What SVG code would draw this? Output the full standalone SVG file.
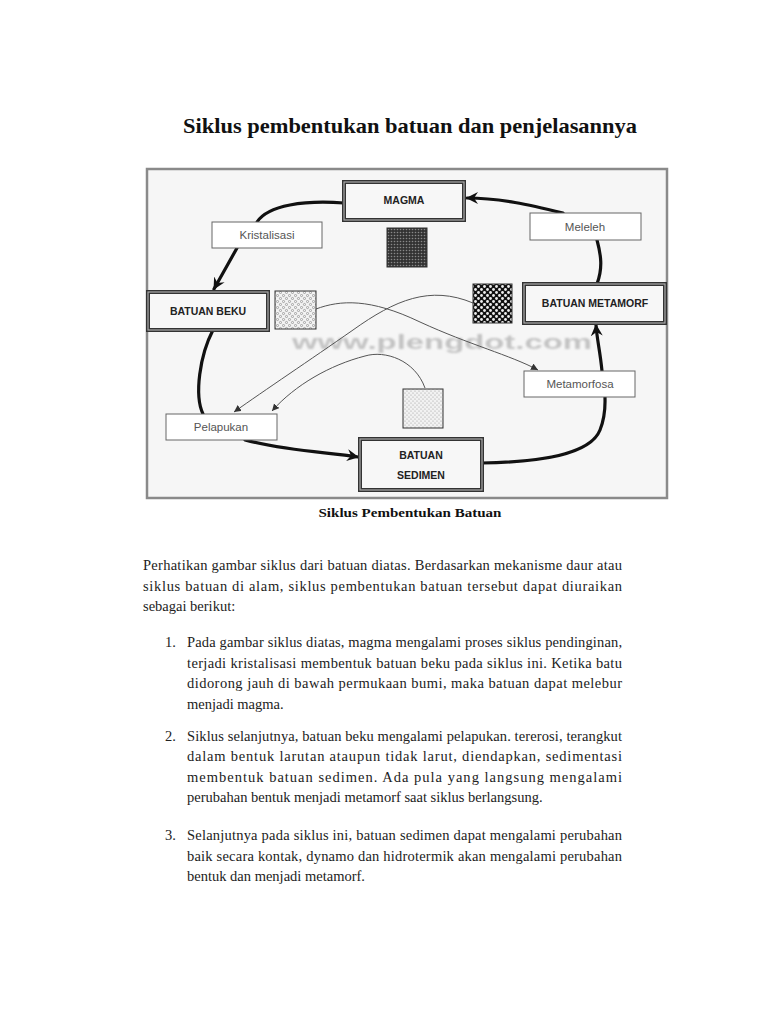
<svg xmlns="http://www.w3.org/2000/svg" width="768" height="1024" viewBox="0 0 768 1024">
<style>
.title{font-family:"Liberation Serif",serif;font-weight:bold;font-size:22px;fill:#111}
.cap{font-family:"Liberation Serif",serif;font-weight:bold;font-size:13px;fill:#111}
.body{font-family:"Liberation Serif",serif;font-size:14.5px;fill:#222}
.lbl{font-family:"Liberation Sans",sans-serif;font-size:11.5px;fill:#555;text-anchor:middle}
.blbl{font-family:"Liberation Sans",sans-serif;font-size:10.5px;font-weight:bold;fill:#222;text-anchor:middle}
.lbox{fill:#fff;stroke:#666;stroke-width:1}
.bbox{fill:#f7f7f7;stroke:#333;stroke-width:4}
.bbox2{fill:none;stroke:#aaa;stroke-width:1.2}
.thick{fill:none;stroke:#111;stroke-width:3.2;stroke-linecap:round}
.thin{fill:none;stroke:#555;stroke-width:1}
.sq{stroke:#333;stroke-width:1}
.wm{font-family:"Liberation Sans",sans-serif;font-weight:bold;font-size:20px;fill:#999;opacity:0.55}
</style>
<defs>
<marker id="ah" markerUnits="userSpaceOnUse" markerWidth="14" markerHeight="14" refX="11" refY="6" orient="auto">
<path d="M0,0 L12,6 L0,12 L4,6 Z" fill="#111"/>
</marker>
<marker id="ahs" markerUnits="userSpaceOnUse" markerWidth="8" markerHeight="8" refX="7" refY="3.5" orient="auto">
<path d="M0,0 L7,3.5 L0,7 Z" fill="#333"/>
</marker>
<pattern id="magmaPat" width="3" height="3" patternUnits="userSpaceOnUse">
<rect width="3" height="3" fill="#333"/>
<circle cx="1.5" cy="1.5" r="0.8" fill="#888"/>
</pattern>
<pattern id="bekuPat" width="6" height="6" patternUnits="userSpaceOnUse">
<rect width="6" height="6" fill="#f3f3f3"/>
<circle cx="1.5" cy="1.5" r="1.1" fill="none" stroke="#777" stroke-width="0.6"/>
<circle cx="4.5" cy="4.5" r="1.1" fill="none" stroke="#777" stroke-width="0.6"/>
</pattern>
<pattern id="metaPat" width="6" height="6" patternUnits="userSpaceOnUse">
<rect width="6" height="6" fill="#111"/>
<circle cx="1.5" cy="1.5" r="1.4" fill="#eee"/>
<circle cx="4.5" cy="4.5" r="1.4" fill="#eee"/>
</pattern>
<pattern id="sedPat" width="4" height="4" patternUnits="userSpaceOnUse">
<rect width="4" height="4" fill="#f2f2f2"/>
<circle cx="1" cy="1" r="0.6" fill="#999"/>
<circle cx="3" cy="3" r="0.6" fill="#999"/>
</pattern>
<filter id="blur" x="-5%" y="-50%" width="110%" height="200%">
<feGaussianBlur stdDeviation="1.3"/>
</filter>
</defs>
<rect width="768" height="1024" fill="#fff"/>
<text class="title" x="410" y="133" text-anchor="middle" textLength="454" lengthAdjust="spacingAndGlyphs">Siklus pembentukan batuan dan penjelasannya</text>

<g id="frame">
<rect x="147" y="169" width="520" height="329" fill="#f6f6f6" stroke="#8a8a8a" stroke-width="2.5"/>
</g>

<g id="watermark" filter="url(#blur)">
<text class="wm" x="292" y="349" textLength="300" lengthAdjust="spacingAndGlyphs">www.plengdot.com</text>
</g>

<g id="connectors">
<path class="thick" d="M344,203 C305,200 268,205 257,222"/>
<path class="thick" d="M237,248 L214,289" marker-end="url(#ah)"/>
<path class="thick" d="M213,330 C200,355 194,395 203,414"/>
<path class="thick" d="M245,440 C290,452 330,452 358,457" marker-end="url(#ah)"/>
<path class="thick" d="M482,463 C540,462 590,455 600,430 C606,415 605,405 605,397"/>
<path class="thick" d="M602,371 C600,350 597,340 596,325" marker-end="url(#ah)"/>
<path class="thick" d="M597,284 C603,268 601,255 597,240"/>
<path class="thick" d="M563,213 C530,205 500,198 467,198" marker-end="url(#ah)"/>
<path class="thin" d="M316,309 C340,300 370,298 420,322 C470,345 510,355 538,370" marker-end="url(#ahs)"/>
<path class="thin" d="M473,303 C430,285 395,300 353,330 C310,360 265,390 234,412" marker-end="url(#ahs)"/>
<path class="thin" d="M425,388 C415,360 385,350 365,356 C330,365 295,385 272,411" marker-end="url(#ahs)"/>
</g>

<g id="magma">
<rect class="bbox" x="344" y="182" width="120" height="38"/>
<rect class="bbox2" x="344" y="182" width="120" height="38"/>
<text class="blbl" x="404" y="204">MAGMA</text>
</g>
<g id="magma-texture"><rect class="sq" x="387" y="228" width="40" height="39" fill="url(#magmaPat)"/></g>

<g id="kristalisasi">
<rect class="lbox" x="212" y="222" width="110" height="26"/>
<text class="lbl" x="267" y="239">Kristalisasi</text>
</g>

<g id="batuan-beku">
<rect class="bbox" x="148" y="292" width="120" height="38"/>
<rect class="bbox2" x="148" y="292" width="120" height="38"/>
<text class="blbl" x="208" y="315">BATUAN BEKU</text>
</g>
<g id="beku-texture"><rect class="sq" x="275" y="291" width="41" height="38" fill="url(#bekuPat)"/></g>

<g id="meleleh">
<rect class="lbox" x="530" y="213" width="111" height="27"/>
<text class="lbl" x="585" y="231">Meleleh</text>
</g>

<g id="metamorf-texture"><rect class="sq" x="473" y="284" width="39" height="39" fill="url(#metaPat)"/></g>
<g id="batuan-metamorf">
<rect class="bbox" x="524" y="284" width="141" height="39"/>
<rect class="bbox2" x="524" y="284" width="141" height="39"/>
<text class="blbl" x="595" y="307">BATUAN METAMORF</text>
</g>

<g id="metamorfosa">
<rect class="lbox" x="524" y="371" width="111" height="26"/>
<text class="lbl" x="580" y="388">Metamorfosa</text>
</g>

<g id="sedimen-texture"><rect class="sq" x="403" y="389" width="40" height="39" fill="url(#sedPat)"/></g>

<g id="pelapukan">
<rect class="lbox" x="166" y="414" width="111" height="26"/>
<text class="lbl" x="221" y="431">Pelapukan</text>
</g>

<g id="batuan-sedimen">
<rect class="bbox" x="360" y="439" width="122" height="51"/>
<rect class="bbox2" x="360" y="439" width="122" height="51"/>
<text class="blbl" x="421" y="459">BATUAN</text>
<text class="blbl" x="421" y="479">SEDIMEN</text>
</g>

<text class="cap" x="410" y="517" text-anchor="middle" textLength="183" lengthAdjust="spacingAndGlyphs">Siklus Pembentukan Batuan</text>

<g id="paragraph">
<text class="body" x="143" y="570" textLength="479" lengthAdjust="spacing">Perhatikan gambar siklus dari batuan diatas. Berdasarkan mekanisme daur atau</text>
<text class="body" x="143" y="591" textLength="479" lengthAdjust="spacing">siklus batuan di alam, siklus pembentukan batuan tersebut dapat diuraikan</text>
<text class="body" x="143" y="611">sebagai berikut:</text>

<text class="body" x="165" y="647">1.</text>
<text class="body" x="187" y="647" textLength="435" lengthAdjust="spacing">Pada gambar siklus diatas, magma mengalami proses siklus pendinginan,</text>
<text class="body" x="187" y="668" textLength="435" lengthAdjust="spacing">terjadi kristalisasi membentuk batuan beku pada siklus ini. Ketika batu</text>
<text class="body" x="187" y="688" textLength="435" lengthAdjust="spacing">didorong jauh di bawah permukaan bumi, maka batuan dapat melebur</text>
<text class="body" x="187" y="709">menjadi magma.</text>

<text class="body" x="165" y="741">2.</text>
<text class="body" x="187" y="741" textLength="435" lengthAdjust="spacing">Siklus selanjutnya, batuan beku mengalami pelapukan. tererosi, terangkut</text>
<text class="body" x="187" y="761" textLength="435" lengthAdjust="spacing">dalam bentuk larutan ataupun tidak larut, diendapkan, sedimentasi</text>
<text class="body" x="187" y="782" textLength="435" lengthAdjust="spacing">membentuk batuan sedimen. Ada pula yang langsung mengalami</text>
<text class="body" x="187" y="802">perubahan bentuk menjadi metamorf saat siklus berlangsung.</text>

<text class="body" x="165" y="840">3.</text>
<text class="body" x="187" y="840" textLength="435" lengthAdjust="spacing">Selanjutnya pada siklus ini, batuan sedimen dapat mengalami perubahan</text>
<text class="body" x="187" y="861" textLength="435" lengthAdjust="spacing">baik secara kontak, dynamo dan hidrotermik akan mengalami perubahan</text>
<text class="body" x="187" y="881">bentuk dan menjadi metamorf.</text>
</g>
</svg>
